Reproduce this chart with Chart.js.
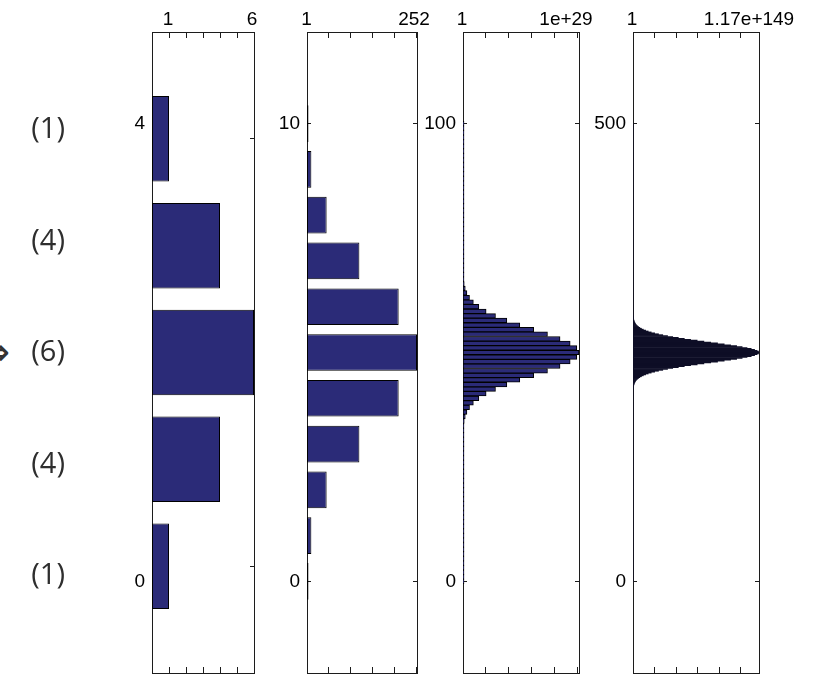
<!DOCTYPE html>
<html>
<head>
<meta charset="utf-8">
<title>Binomial coefficients</title>
<script src="https://cdn.jsdelivr.net/npm/chart.js@4.4.0/dist/chart.umd.min.js"></script>
<style>
  html, body { margin: 0; padding: 0; background: #fff; }
  #stage { position: relative; width: 824px; height: 674px; overflow: hidden; background: #fff; }
  #stage canvas { position: absolute; top: 0; }
  #arrow {
    position: absolute; right: 814px; top: 333px;
    font-family: "DejaVu Sans", sans-serif; font-size: 38px; line-height: 38px;
    color: #333; white-space: nowrap;
  }
</style>
</head>
<body>
<div id="stage">
  <span id="arrow">⟹</span>
</div>
<script>
// Rows of Pascal's triangle: C(n, k) for k = 0..n
const row4 = [1, 4, 6, 4, 1];
const row10 = [1, 10, 45, 120, 210, 252, 210, 120, 45, 10, 1];
const row100 = [
  1, 100, 4950, 161700, 3921225, 75287520, 1192052400, 16007560800, 186087894300, 1902231808400,
  1.7310e13, 1.4163e14, 1.0504e15, 7.1107e15, 4.4188e16, 2.5334e17, 1.3459e18, 6.6502e18, 3.0665e19, 1.3234e20,
  5.3599e20, 2.0419e21, 7.3322e21, 2.4866e22, 7.9777e22, 2.4252e23, 6.9959e23, 1.9174e24, 4.9989e24, 1.2411e25,
  2.9372e25, 6.6325e25, 1.4301e26, 2.9470e26, 5.8072e26, 1.0951e27, 1.9772e27, 3.4201e27, 5.6701e27, 9.0140e27,
  1.3746e28, 2.0116e28, 2.8259e28, 3.8117e28, 4.9378e28, 6.1448e28, 7.3471e28, 8.4413e28, 9.3207e28, 9.8913e28,
  1.0089e29,
  9.8913e28, 9.3207e28, 8.4413e28, 7.3471e28, 6.1448e28, 4.9378e28, 3.8117e28, 2.8259e28, 2.0116e28, 1.3746e28,
  9.0140e27, 5.6701e27, 3.4201e27, 1.9772e27, 1.0951e27, 5.8072e26, 2.9470e26, 1.4301e26, 6.6325e25, 2.9372e25,
  1.2411e25, 4.9989e24, 1.9174e24, 6.9959e23, 2.4252e23, 7.9777e22, 2.4866e22, 7.3322e21, 2.0419e21, 5.3599e20,
  1.3234e20, 3.0665e19, 6.6502e18, 1.3459e18, 2.5334e17, 4.4188e16, 7.1107e15, 1.0504e15, 1.4163e14, 1.7310e13,
  1902231808400, 186087894300, 16007560800, 1192052400, 75287520, 3921225, 161700, 4950, 100, 1
];
// n = 500: entries more than 60 away from the middle are below 1e-6 of the peak and kept at 0
const row500 = [
  0,0,0,0,0,0,0,0,0,0, 0,0,0,0,0,0,0,0,0,0, 0,0,0,0,0,0,0,0,0,0, 0,0,0,0,0,0,0,0,0,0,
  0,0,0,0,0,0,0,0,0,0, 0,0,0,0,0,0,0,0,0,0, 0,0,0,0,0,0,0,0,0,0, 0,0,0,0,0,0,0,0,0,0,
  0,0,0,0,0,0,0,0,0,0, 0,0,0,0,0,0,0,0,0,0, 0,0,0,0,0,0,0,0,0,0, 0,0,0,0,0,0,0,0,0,0,
  0,0,0,0,0,0,0,0,0,0, 0,0,0,0,0,0,0,0,0,0, 0,0,0,0,0,0,0,0,0,0, 0,0,0,0,0,0,0,0,0,0,
  0,0,0,0,0,0,0,0,0,0, 0,0,0,0,0,0,0,0,0,0, 0,0,0,0,0,0,0,0,0,0,
  5.8138e142, 9.4367e142, 1.5188e143, 2.4239e143, 3.8358e143, 6.0193e143, 9.3676e143, 1.4456e144, 2.2122e144, 3.3576e144,
  5.0548e144, 7.5517e144, 1.1177e145, 1.6405e145, 2.3883e145, 3.4480e145, 4.9374e145, 7.0121e145, 9.8771e145, 1.3799e146,
  1.9121e146, 2.6278e146, 3.5822e146, 4.8433e146, 6.4953e146, 8.6400e146, 1.1400e147, 1.4919e147, 1.9368e147, 2.4939e147,
  3.1854e147, 4.0356e147, 5.0718e147, 6.3226e147, 7.8187e147, 9.5908e147, 1.1670e148, 1.4086e148, 1.6867e148, 2.0034e148,
  2.3605e148, 2.7590e148, 3.1990e148, 3.6795e148, 4.1985e148, 4.7523e148, 5.3363e148, 5.9442e148, 6.5686e148, 7.2007e148,
  7.8307e148, 8.4481e148, 9.0416e148, 9.5997e148, 1.0111e149, 1.0565e149, 1.0952e149, 1.1262e149, 1.1489e149, 1.1627e149,
  1.1674e149,
  1.1627e149, 1.1489e149, 1.1262e149, 1.0952e149, 1.0565e149, 1.0111e149, 9.5997e148, 9.0416e148, 8.4481e148, 7.8307e148,
  7.2007e148, 6.5686e148, 5.9442e148, 5.3363e148, 4.7523e148, 4.1985e148, 3.6795e148, 3.1990e148, 2.7590e148, 2.3605e148,
  2.0034e148, 1.6867e148, 1.4086e148, 1.1670e148, 9.5908e147, 7.8187e147, 6.3226e147, 5.0718e147, 4.0356e147, 3.1854e147,
  2.4939e147, 1.9368e147, 1.4919e147, 1.1400e147, 8.6400e146, 6.4953e146, 4.8433e146, 3.5822e146, 2.6278e146, 1.9121e146,
  1.3799e146, 9.8771e145, 7.0121e145, 4.9374e145, 3.4480e145, 2.3883e145, 1.6405e145, 1.1177e145, 7.5517e144, 5.0548e144,
  3.3576e144, 2.2122e144, 1.4456e144, 9.3676e143, 6.0193e143, 3.8358e143, 2.4239e143, 1.5188e143, 9.4367e142, 5.8138e142,
  0,0,0,0,0,0,0,0,0,0, 0,0,0,0,0,0,0,0,0,0, 0,0,0,0,0,0,0,0,0,0, 0,0,0,0,0,0,0,0,0,0,
  0,0,0,0,0,0,0,0,0,0, 0,0,0,0,0,0,0,0,0,0, 0,0,0,0,0,0,0,0,0,0, 0,0,0,0,0,0,0,0,0,0,
  0,0,0,0,0,0,0,0,0,0, 0,0,0,0,0,0,0,0,0,0, 0,0,0,0,0,0,0,0,0,0, 0,0,0,0,0,0,0,0,0,0,
  0,0,0,0,0,0,0,0,0,0, 0,0,0,0,0,0,0,0,0,0, 0,0,0,0,0,0,0,0,0,0, 0,0,0,0,0,0,0,0,0,0,
  0,0,0,0,0,0,0,0,0,0, 0,0,0,0,0,0,0,0,0,0, 0,0,0,0,0,0,0,0,0,0
];

// Coefficient labels written beside the n = 4 row
const coefLabels = ['(1)', '(4)', '(6)', '(4)', '(1)'];

// Top axis labels: smallest shown count and the peak
const xText4 = ['1', '6'];
const xText10 = ['1', '252'];
const xText100 = ['1', '1e+29'];
const xText500 = ['1', '1.17e+149'];

// Minor tick marks along the top and bottom of each frame
const xMarks4 = [1, 2, 3, 4, 5, 6];
const xMarks10 = [1, 50, 100, 150, 200, 250];
const xMarks100 = [1, 2e28, 4e28, 6e28, 8e28, 1e29];
const xMarks500 = [1, 2e148, 4e148, 6e148, 8e148, 1e149];

// Left axis labels: k = 0 and k = n
const yText4 = ['0', '4'];
const yText10 = ['0', '10'];
const yText100 = ['0', '100'];
const yText500 = ['0', '500'];

const FRAME = '#1c1c1c';
const TICK_FONT = { family: "'Liberation Sans', Arial, Helvetica, sans-serif", size: 19 };
const CANVAS_H = 674;

const panels = [
  { values: row4, n: 4, xText: xText4, xMarks: xMarks4, yText: yText4,
    areaLeft: 152, areaWidth: 102, labelW: 50, coefW: 102, rightW: 30,
    barRange: [-1, 5], maxShift: -2,
    bar: { fill: '#2b2b78', edge: 1, share: 0.8, minLen: 0 } },
  { values: row10, n: 10, xText: xText10, xMarks: xMarks10, yText: yText10,
    areaLeft: 307, areaWidth: 110, labelW: 50, coefW: 0, rightW: 30,
    barRange: null, maxShift: -3,
    bar: { fill: '#2b2b78', edge: 1, share: 0.8, minLen: 1.5 } },
  { values: row100, n: 100, xText: xText100, xMarks: xMarks100, yText: yText100,
    areaLeft: 463, areaWidth: 116, labelW: 50, coefW: 0, rightW: 30,
    barRange: null, maxShift: -13,
    bar: { fill: '#2b2b78', edge: 1, share: 1, minLen: 1 } },
  { values: row500, n: 500, xText: xText500, xMarks: xMarks500, yText: yText500,
    areaLeft: 633, areaWidth: 126, labelW: 50, coefW: 0, rightW: 60,
    barRange: null, maxShift: -10,
    bar: { fill: '#0e0e26', edge: 0, share: 1, minLen: 0 } }
];

// Pin an axis box to a fixed thickness and drop the edge padding Chart.js reserves for labels
function fixBox(size) {
  return function (scale) {
    if (scale.isHorizontal()) scale.height = size; else scale.width = size;
    scale.paddingLeft = scale.paddingRight = scale.paddingTop = scale.paddingBottom = 0;
  };
}
function setTicks(values) {
  return function (scale) { scale.ticks = values.map(v => ({ value: v })); };
}
function frameGrid(len) {
  return { offset: false, drawOnChartArea: false, drawTicks: true, tickLength: len, color: FRAME, lineWidth: 1 };
}
const frameBorder = { display: true, color: FRAME, width: 1 };
const noBorder = { display: false };
const noGrid = { display: false, drawTicks: false, offset: false };

const stage = document.getElementById('stage');

panels.forEach(p => {
  const peak = Math.max(...p.values);
  const labelRange = [-0.2 * p.n, 1.2 * p.n];
  const barRange = p.barRange || labelRange;
  const leftTotal = p.labelW + p.coefW;

  const canvas = document.createElement('canvas');
  canvas.width = leftTotal + p.areaWidth + p.rightW;
  canvas.height = CANVAS_H;
  canvas.style.left = (p.areaLeft - leftTotal) + 'px';
  canvas.style.width = canvas.width + 'px';
  canvas.style.height = CANVAS_H + 'px';
  stage.appendChild(canvas);

  const scales = {
    // top frame edge with its inward marks and the "1" label
    x: {
      type: 'linear', position: 'top', weight: 10, offset: false,
      min: 0, max: peak, bounds: 'data',
      afterBuildTicks: setTicks(p.xMarks),
      ticks: {
        display: true, autoSkip: false, maxRotation: 0, padding: 7, labelOffset: -1,
        color: '#000', font: TICK_FONT,
        callback: v => (v === 1 ? p.xText[0] : '')
      },
      grid: frameGrid(-6), border: frameBorder, afterFit: fixBox(32)
    },
    // label for the peak count, drawn in the same top band
    xm: {
      type: 'linear', position: 'top', weight: 0, offset: false,
      min: 0, max: peak, bounds: 'data',
      afterBuildTicks: setTicks([peak]),
      ticks: {
        display: true, mirror: true, autoSkip: false, maxRotation: 0, padding: -24,
        labelOffset: p.maxShift, color: '#000', font: TICK_FONT,
        callback: () => p.xText[1]
      },
      grid: noGrid, border: noBorder, afterFit: fixBox(0)
    },
    // bottom frame edge
    xb: {
      type: 'linear', position: 'bottom', offset: false,
      min: 0, max: peak, bounds: 'data',
      afterBuildTicks: setTicks(p.xMarks),
      ticks: { display: false },
      grid: frameGrid(-6), border: frameBorder, afterFit: fixBox(1)
    },
    // position of each k along the frame
    y: {
      type: 'linear', display: false, offset: false, grid: noGrid,
      min: barRange[0], max: barRange[1], bounds: 'data',
      afterFit: fixBox(0)
    },
    // left frame edge with the 0 and n labels
    yl: {
      type: 'linear', position: 'left', weight: 0, offset: false,
      min: labelRange[0], max: labelRange[1], bounds: 'data',
      afterBuildTicks: setTicks([0, p.n]),
      ticks: {
        display: true, autoSkip: false, padding: 11, color: '#000', font: TICK_FONT,
        callback: (v, i) => p.yText[i]
      },
      grid: frameGrid(-4), border: frameBorder, afterFit: fixBox(p.labelW)
    },
    // right frame edge
    yr: {
      type: 'linear', position: 'right', offset: false,
      min: barRange[0], max: barRange[1], bounds: 'data',
      afterBuildTicks: setTicks([0, p.n]),
      ticks: { display: false },
      grid: frameGrid(-4), border: frameBorder, afterFit: fixBox(p.rightW)
    }
  };

  if (p.coefW > 0) {
    // coefficient column to the far left of the first frame
    scales.yc = {
      type: 'linear', position: 'left', weight: 10, offset: false,
      min: -0.87, max: 4.88, bounds: 'data',
      afterBuildTicks: setTicks(p.values.map((v, k) => k)),
      ticks: {
        display: true, autoSkip: false, padding: 37, color: '#2e2e2e',
        font: { family: "'Open Sans', 'Noto Sans', sans-serif", size: 29 },
        callback: (v, i) => coefLabels[i]
      },
      grid: noGrid, border: noBorder, afterFit: fixBox(p.coefW)
    };
  }

  const dataset = {
    data: p.values.map((v, k) => ({ x: v, y: k })),
    xAxisID: 'x',
    yAxisID: 'y',
    backgroundColor: p.bar.fill,
    borderColor: '#000',
    borderWidth: p.bar.edge,
    borderSkipped: false,
    categoryPercentage: 1,
    barPercentage: p.bar.share
  };
  if (p.bar.minLen) dataset.minBarLength = p.bar.minLen;

  new Chart(canvas, {
    type: 'bar',
    data: { datasets: [dataset] },
    options: {
      indexAxis: 'y',
      responsive: false,
      maintainAspectRatio: false,
      devicePixelRatio: 1,
      animation: false,
      events: [],
      layout: { padding: 0 },
      plugins: { legend: { display: false }, tooltip: { enabled: false }, title: { display: false } },
      scales: scales
    }
  });
});
</script>
</body>
</html>
